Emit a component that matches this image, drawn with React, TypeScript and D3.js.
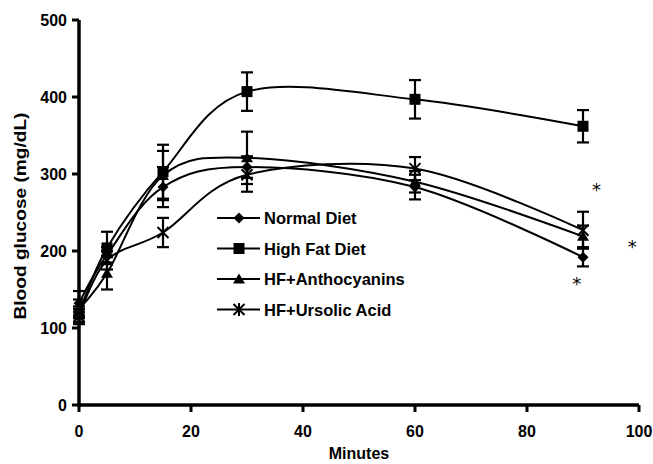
import React from "react";
import * as d3 from "d3";

const minutes = [0, 5, 15, 30, 60, 90];
const seriesNames = ["Normal Diet", "High Fat Diet", "HF+Anthocyanins", "HF+Ursolic Acid"];
const normalDiet = [132, 195, 283, 309, 283, 192];
const normalErr = [16, 10, 26, 14, 16, 12];
const highFat = [118, 204, 303, 407, 397, 362];
const highFatErr = [10, 21, 35, 25, 25, 21];
const anthocyanins = [125, 171, 298, 321, 290, 219];
const anthocyaninsErr = [12, 21, 32, 34, 14, 14];
const ursolic = [115, 188, 224, 299, 307, 227];
const ursolicErr = [10, 12, 19, 22, 15, 24];
const markerTypes = ["diamond", "square", "triangle", "star"];
const xTicks = [0, 20, 40, 60, 80, 100];
const yTicks = [0, 100, 200, 300, 400, 500];
const sigMarks = [
  { x: 92.4, y: 285 },
  { x: 98.8, y: 211 },
  { x: 88.9, y: 162 },
];

const FONT = "'Liberation Sans', Arial, sans-serif";

function Marker({ type, cx, cy }: { type: string; cx: number; cy: number }) {
  const s = 5.5;
  if (type === "diamond")
    return <path d={`M${cx},${cy - s}L${cx + s},${cy}L${cx},${cy + s}L${cx - s},${cy}Z`} fill="#000" />;
  if (type === "square")
    return <rect x={cx - s} y={cy - s} width={2 * s} height={2 * s} fill="#000" />;
  if (type === "triangle")
    return <path d={`M${cx},${cy - s}L${cx + s + 0.5},${cy + s - 1}L${cx - s - 0.5},${cy + s - 1}Z`} fill="#000" />;
  return (
    <g stroke="#000" strokeWidth={2}>
      <line x1={cx - s} y1={cy - s} x2={cx + s} y2={cy + s} />
      <line x1={cx - s} y1={cy + s} x2={cx + s} y2={cy - s} />
      <line x1={cx} y1={cy - s - 1} x2={cx} y2={cy + s + 1} />
    </g>
  );
}

export default function App() {
  const x = d3.scaleLinear().domain([0, 100]).range([79, 639]);
  const y = d3.scaleLinear().domain([0, 500]).range([405, 20]);
  const series = [
    { v: normalDiet, e: normalErr },
    { v: highFat, e: highFatErr },
    { v: anthocyanins, e: anthocyaninsErr },
    { v: ursolic, e: ursolicErr },
  ];
  const line = d3
    .line<[number, number]>()
    .x((d) => x(d[0]))
    .y((d) => y(d[1]))
    .curve(d3.curveCardinal.tension(0));

  const legendY = (i: number) => 218 + i * 30.5;

  return (
    <svg width={653} height={464} style={{ position: "absolute", left: 0, top: 0, background: "#fff" }}>
      <rect width={653} height={464} fill="#fff" />
      {series.map((s, i) => (
        <path
          key={"l" + i}
          d={line(minutes.map((m, j) => [m, s.v[j]] as [number, number])) || ""}
          fill="none"
          stroke="#000"
          strokeWidth={2}
        />
      ))}
      {series.map((s, i) =>
        minutes.map((m, j) => {
          const cx = x(m);
          const top = y(s.v[j] + s.e[j]);
          const bot = y(s.v[j] - s.e[j]);
          return (
            <g key={"e" + i + "-" + j} stroke="#000" strokeWidth={2.2}>
              <line x1={cx} x2={cx} y1={top} y2={bot} />
              <line x1={cx - 6} x2={cx + 6} y1={top} y2={top} />
              <line x1={cx - 6} x2={cx + 6} y1={bot} y2={bot} />
            </g>
          );
        })
      )}
      {series.map((s, i) =>
        minutes.map((m, j) => <Marker key={"m" + i + "-" + j} type={markerTypes[i]} cx={x(m)} cy={y(s.v[j])} />)
      )}
      <line x1={x(0)} x2={x(100)} y1={y(0)} y2={y(0)} stroke="#000" strokeWidth={3.5} />
      <line x1={x(0)} x2={x(0)} y1={y(0) + 1.75} y2={y(500)} stroke="#000" strokeWidth={3.5} />
      {xTicks.map((t) => (
        <g key={"xt" + t}>
          <line x1={x(t)} x2={x(t)} y1={y(0)} y2={y(0) + 7} stroke="#000" strokeWidth={3} />
          <text x={x(t)} y={437} textAnchor="middle" fontFamily={FONT} fontWeight="bold" fontSize={16}>
            {t}
          </text>
        </g>
      ))}
      {yTicks.map((t) => (
        <g key={"yt" + t}>
          <line x1={x(0) - 7} x2={x(0)} y1={y(t)} y2={y(t)} stroke="#000" strokeWidth={3} />
          <text x={67} y={y(t) + 6} textAnchor="end" fontFamily={FONT} fontWeight="bold" fontSize={16}>
            {t}
          </text>
        </g>
      ))}
      <text x={359} y={459} textAnchor="middle" fontFamily={FONT} fontWeight="bold" fontSize={16}>
        Minutes
      </text>
      <text
        transform={`translate(26,216) rotate(-90)`}
        textAnchor="middle"
        fontFamily={FONT}
        fontWeight="bold"
        fontSize={16.5}
        textLength={207}
        lengthAdjust="spacingAndGlyphs"
      >
        Blood glucose (mg/dL)
      </text>
      {seriesNames.map((n, i) => (
        <g key={"lg" + i}>
          <line x1={217} x2={260} y1={legendY(i)} y2={legendY(i)} stroke="#000" strokeWidth={2} />
          <Marker type={markerTypes[i]} cx={239} cy={legendY(i)} />
          <text x={264} y={legendY(i) + 6} fontFamily={FONT} fontWeight="bold" fontSize={16.5}>
            {n}
          </text>
        </g>
      ))}
      {sigMarks.map((s, i) => (
        <text
          key={"s" + i}
          x={x(s.x)}
          y={y(s.y) + 10}
          textAnchor="middle"
          fontFamily="'DejaVu Sans', sans-serif"
          fontSize={18}
        >
          *
        </text>
      ))}
    </svg>
  );
}
